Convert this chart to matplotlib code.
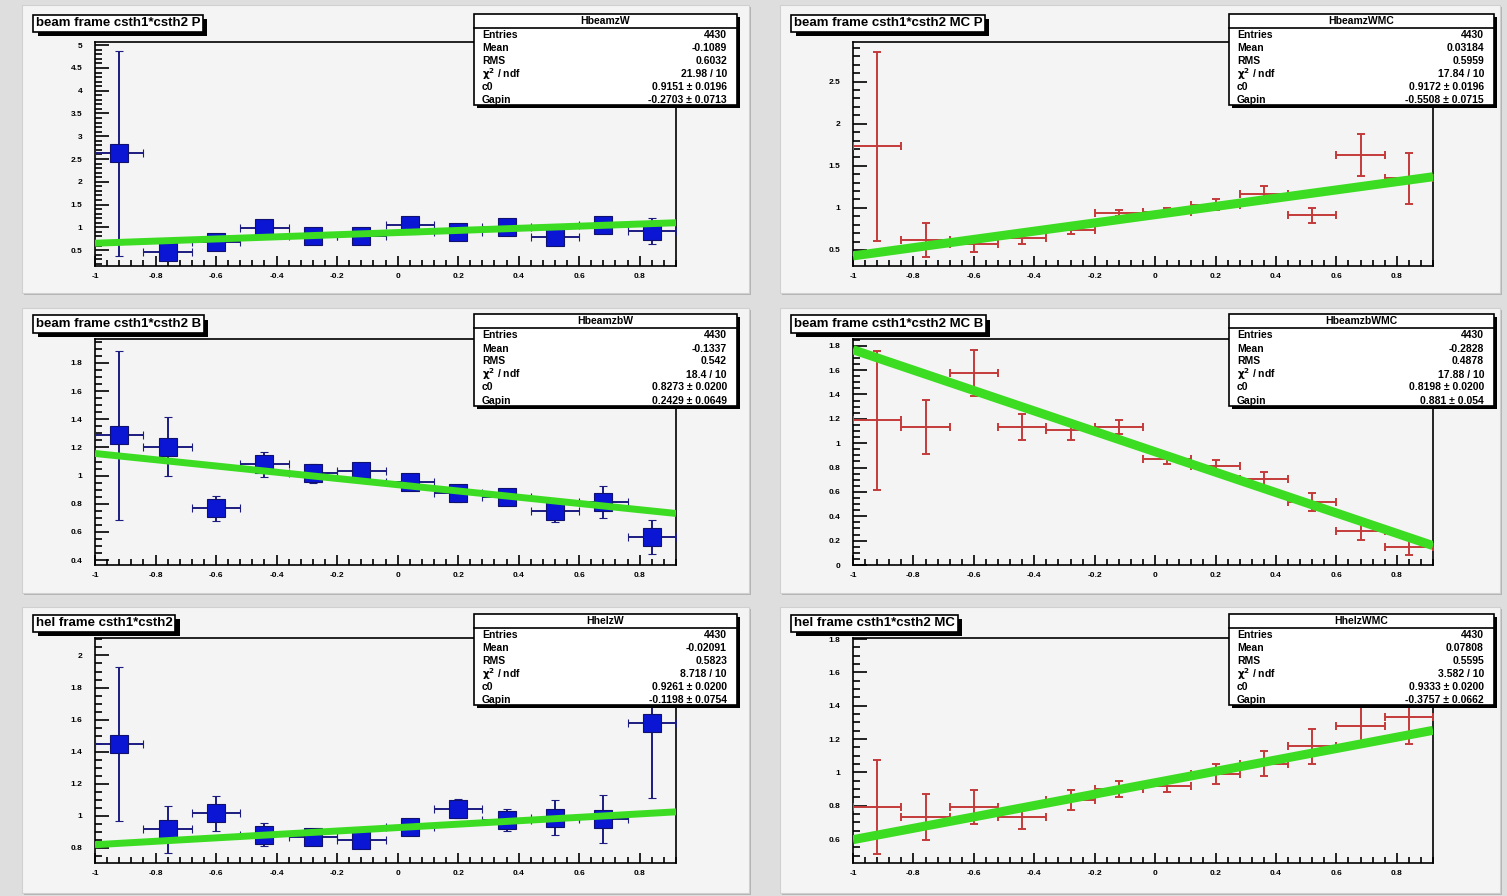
import matplotlib
matplotlib.use("Agg")
import matplotlib.pyplot as plt
import matplotlib.patheffects as pe
from matplotlib.patches import Rectangle
from matplotlib.ticker import MultipleLocator, FuncFormatter

W, H = 1507, 896

# bin centres of cos(th1)*cos(th2), 12 bins from -1 to 0.92
x_centers = [-0.92, -0.76, -0.60, -0.44, -0.28, -0.12, 0.04, 0.20, 0.36, 0.52, 0.68, 0.84]
x_half = 0.08

p_data_y = [2.63, 0.46, 0.68, 0.98, 0.81, 0.81, 1.05, 0.89, 1.01, 0.79, 1.04, 0.92]
p_data_err = [2.25, 0.10, 0.13, 0.10, 0.11, 0.11, 0.10, 0.10, 0.11, 0.11, 0.11, 0.28]
p_mc_y = [1.73, 0.62, 0.57, 0.64, 0.74, 0.94, 0.95, 1.04, 1.16, 0.91, 1.63, 1.35]
p_mc_err = [1.12, 0.20, 0.09, 0.07, 0.05, 0.04, 0.045, 0.06, 0.10, 0.085, 0.25, 0.30]

b_data_y = [1.287, 1.204, 0.767, 1.08, 1.015, 1.03, 0.955, 0.873, 0.845, 0.75, 0.814, 0.565]
b_data_err = [0.60, 0.21, 0.09, 0.09, 0.07, 0.05, 0.05, 0.06, 0.05, 0.08, 0.115, 0.12]
b_mc_y = [1.188, 1.133, 1.574, 1.133, 1.105, 1.133, 0.87, 0.815, 0.705, 0.517, 0.283, 0.145]
b_mc_err = [0.57, 0.22, 0.19, 0.11, 0.08, 0.06, 0.04, 0.05, 0.06, 0.075, 0.08, 0.06]

h_data_y = [1.447, 0.915, 1.015, 0.883, 0.869, 0.848, 0.929, 1.044, 0.973, 0.988, 0.982, 1.578]
h_data_err = [0.48, 0.147, 0.107, 0.073, 0.05, 0.04, 0.05, 0.06, 0.07, 0.11, 0.15, 0.465]
h_mc_y = [0.793, 0.732, 0.793, 0.732, 0.832, 0.901, 0.92, 0.993, 1.053, 1.158, 1.278, 1.33]
h_mc_err = [0.28, 0.14, 0.10, 0.07, 0.06, 0.05, 0.035, 0.06, 0.077, 0.105, 0.115, 0.16]

# fitted line value at x=-1 and at x=0.92
fit_ends = {
    "p": (0.65, 1.10), "pmc": (0.43, 1.37),
    "b": (1.157, 0.731), "bmc": (1.767, 0.159),
    "h": (0.82, 1.025), "hmc": (0.596, 1.252),
}

titles = {
    "p": "beam frame csth1*csth2 P", "pmc": "beam frame csth1*csth2 MC P",
    "b": "beam frame csth1*csth2 B", "bmc": "beam frame csth1*csth2 MC B",
    "h": "hel frame csth1*csth2", "hmc": "hel frame csth1*csth2 MC",
}
hist_names = {
    "p": "HbeamzW", "pmc": "HbeamzWMC", "b": "HbeamzbW",
    "bmc": "HbeamzbWMC", "h": "HhelzW", "hmc": "HhelzWMC",
}
stat_labels = ["Entries", "Mean", "RMS", "$\\mathbf{\\chi^{2}}$ / ndf", "c0", "Gapin"]
stat_values = {
    "p": ["4430", "-0.1089", "0.6032", "21.98 / 10", "0.9151 \u00b1 0.0196", "-0.2703 \u00b1 0.0713"],
    "pmc": ["4430", "0.03184", "0.5959", "17.84 / 10", "0.9172 \u00b1 0.0196", "-0.5508 \u00b1 0.0715"],
    "b": ["4430", "-0.1337", "0.542", "18.4 / 10", "0.8273 \u00b1 0.0200", "0.2429 \u00b1 0.0649"],
    "bmc": ["4430", "-0.2828", "0.4878", "17.88 / 10", "0.8198 \u00b1 0.0200", "0.881 \u00b1 0.054"],
    "h": ["4430", "-0.02091", "0.5823", "8.718 / 10", "0.9261 \u00b1 0.0200", "-0.1198 \u00b1 0.0754"],
    "hmc": ["4430", "0.07808", "0.5595", "3.582 / 10", "0.9333 \u00b1 0.0200", "-0.3757 \u00b1 0.0662"],
}

panels = [
    ("p", p_data_y, p_data_err, False, (0.15, 5.07), 0.5, 0.1, 0),
    ("pmc", p_mc_y, p_mc_err, True, (0.31, 2.97), 0.5, 0.1, 0),
    ("b", b_data_y, b_data_err, False, (0.365, 1.97), 0.2, 0.05, 1),
    ("bmc", b_mc_y, b_mc_err, True, (0.0, 1.855), 0.2, 0.05, 1),
    ("h", h_data_y, h_data_err, False, (0.706, 2.109), 0.2, 0.05, 2),
    ("hmc", h_mc_y, h_mc_err, True, (0.456, 1.806), 0.2, 0.05, 2),
]

pad_rows = [(5, 293), (308, 593), (607, 893)]
frame_rows = [(42, 266), (339, 565), (638, 863)]
title_rows = [23.5, 324, 623.5]
PAD_BG = "#f4f4f4"
GREEN = "#3cdc22"

plt.rcParams['font.family'] = ['Liberation Sans', 'DejaVu Sans']
plt.rcParams['font.weight'] = 'bold'

fig = plt.figure(figsize=(W / 100, H / 100), dpi=100)
fig.patch.set_facecolor("#dedede")


def frac(x0, y0, x1, y1):
    return [x0 / W, 1 - y1 / H, (x1 - x0) / W, (y1 - y0) / H]


bg = fig.add_axes([0, 0, 1, 1], zorder=0)
bg.set_xlim(0, W)
bg.set_ylim(H, 0)
bg.axis("off")
ov = fig.add_axes([0, 0, 1, 1], zorder=10)
ov.set_xlim(0, W)
ov.set_ylim(H, 0)
ov.axis("off")
ov.patch.set_alpha(0)

fmt = FuncFormatter(lambda v, pos: "%g" % round(v, 3))

for key, yv, ye, is_mc, ylim, ymaj, ymin, row in panels:
    right = is_mc
    px0, px1 = (780, 1500) if right else (22, 749)
    fx0, fx1 = (853, 1433) if right else (95, 676)
    py0, py1 = pad_rows[row]
    fy0, fy1 = frame_rows[row]
    ty = title_rows[row]

    # pad with a little shadow edge
    bg.add_patch(Rectangle((px0 + 2, py0 + 2), px1 - px0, py1 - py0, fc="#b4b4b4", ec="none"))
    bg.add_patch(Rectangle((px0, py0), px1 - px0, py1 - py0, fc=PAD_BG, ec="#d0d0d0", lw=0.8))

    ax = fig.add_axes(frac(fx0, fy0, fx1, fy1), zorder=5)
    ax.set_facecolor(PAD_BG)
    ax.set_xlim(-1, 0.92)
    ax.set_ylim(*ylim)
    ax.xaxis.set_major_locator(MultipleLocator(0.2))
    ax.xaxis.set_minor_locator(MultipleLocator(0.04))
    ax.yaxis.set_major_locator(MultipleLocator(ymaj))
    ax.yaxis.set_minor_locator(MultipleLocator(ymin))
    ax.xaxis.set_major_formatter(fmt)
    ax.yaxis.set_major_formatter(fmt)
    ax.tick_params(which="both", direction="in", top=False, right=False,
                   labelsize=6, width=1.2, colors="black")
    ax.tick_params(axis="y", which="major", length=10, pad=9)
    ax.tick_params(axis="y", which="minor", length=5)
    ax.tick_params(axis="x", which="major", length=7, pad=5)
    ax.tick_params(axis="x", which="minor", length=4)
    for sp in ax.spines.values():
        sp.set_linewidth(1.2)

    if is_mc:
        ax.errorbar(x_centers, yv, xerr=x_half, yerr=ye, fmt="none",
                    ecolor="#c43a3a", elinewidth=1.4, capsize=3.2, capthick=1.4, zorder=3)
        lw_fit = 6.5
    else:
        ax.errorbar(x_centers, yv, xerr=x_half, yerr=ye, fmt="s", ms=12.5,
                    mfc="#0a16d4", mec="#10106e", mew=0.8,
                    ecolor="#1c1c80", elinewidth=1.4, capsize=3.2, capthick=1.4, zorder=3)
        lw_fit = 5.0
    lo, hi = fit_ends[key]
    ax.plot([-1, 0.92], [lo, hi], color=GREEN, lw=lw_fit, solid_capstyle="butt", zorder=4)

    # title box with shadow
    t = ov.text(px0 + 14, ty, titles[key], fontsize=9.5, ha="left", va="center",
                bbox=dict(boxstyle="square,pad=0.2", fc="white", ec="black", lw=1.2))
    t.get_bbox_patch().set_path_effects([
        pe.SimplePatchShadow(offset=(3, -3), shadow_rgbFace="black", alpha=1.0), pe.Normal()])

    # stats box
    sx0, sx1 = (1229, 1494) if right else (474, 737)
    sy0, sy1 = ty - 9.5, ty + 82
    ov.add_patch(Rectangle((sx0 + 3, sy0 + 3), sx1 - sx0, sy1 - sy0, fc="black", ec="none"))
    ov.add_patch(Rectangle((sx0, sy0), sx1 - sx0, sy1 - sy0, fc="white", ec="black", lw=1.2))
    ov.plot([sx0, sx1], [sy0 + 14, sy0 + 14], color="black", lw=1.2)
    ov.text((sx0 + sx1) / 2, sy0 + 7, hist_names[key], fontsize=7.5, ha="center", va="center")
    for i, (lab, val) in enumerate(zip(stat_labels, stat_values[key])):
        yy = sy0 + 21 + i * 13
        ov.text(sx0 + 8, yy, lab, fontsize=7.5, ha="left", va="center")
        ov.text(sx1 - 10, yy, val, fontsize=7.5, ha="right", va="center")

fig.savefig("out.png", dpi=100, facecolor=fig.get_facecolor())
